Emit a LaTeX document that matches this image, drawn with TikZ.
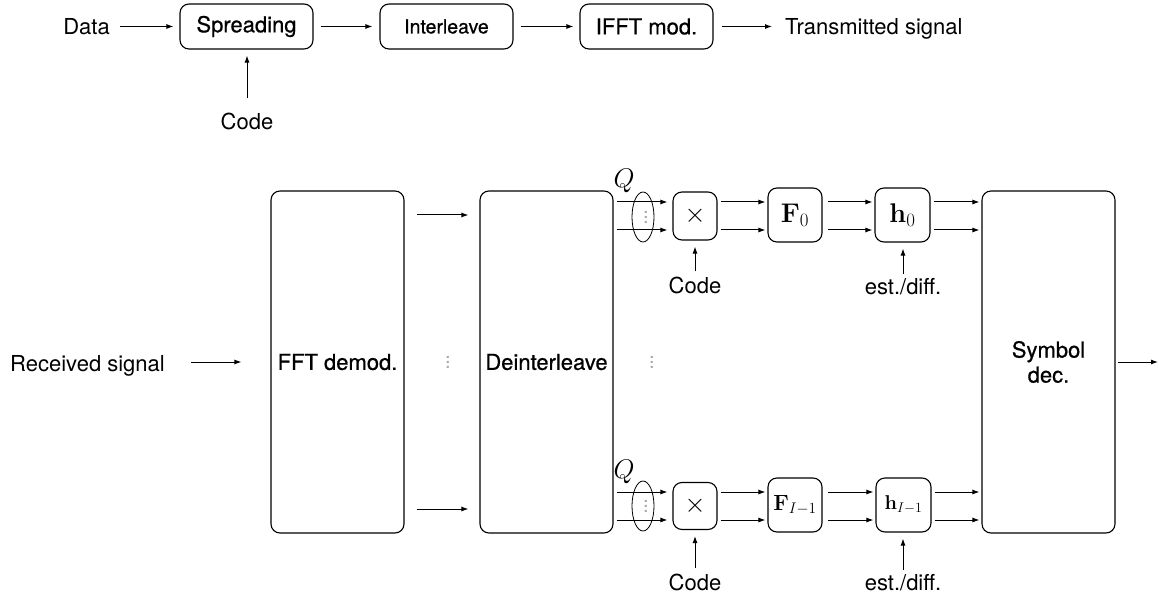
\RequirePackage{fix-cm}
\documentclass[tikz,border=0pt]{standalone}
\usepackage[no-math]{fontspec}
\setmainfont{TeX Gyre Heros}
\newfontfamily\blockfont[FakeBold=0.6]{TeX Gyre Heros}
\usetikzlibrary{arrows.meta,shapes.geometric,calc}
% three stacked dots, a little more open than \vdots
\newcommand\stackdots{\vbox{\baselineskip=5pt\lineskiplimit=0pt\hbox{.}\hbox{.}\hbox{.}}}

\begin{document}
\begin{tikzpicture}[x=1pt,y=-1pt,
  txt/.style={font=\fontsize{22}{25}\selectfont, inner sep=0pt},
  mth/.style={font=\fontsize{27}{30}\selectfont},
  blk/.style={draw, rounded corners=9pt, line width=1.1pt, inner sep=0pt,
              align=center, font=\fontsize{22}{25}\selectfont},
  namedblk/.style={blk, font=\blockfont\fontsize{22}{25}\selectfont},
  topblk/.style={namedblk, minimum width=133pt, minimum height=45pt},
  tallblk/.style={namedblk, minimum width=133pt, minimum height=342pt},
  arr/.style={-{Latex[length=7pt,width=5pt]}, line width=1pt},
  vdot/.style={text=gray!70, inner sep=0pt, font=\fontsize{20}{20}\selectfont},
  grp/.style={draw, ellipse, line width=0.8pt, inner sep=0pt,
              minimum width=22pt, minimum height=50pt},
]
\useasboundingbox (0,0) rectangle (1159,596);

% ---------------- transmitter chain ----------------
\node[txt, anchor=base east] (data) at (110,35) {Data};
\node[topblk] (spread) at (246.5,26.5) {Spreading};
\node[topblk, font=\blockfont\fontsize{19.5}{22}\selectfont] (inter) at (446.5,26.5) {Interleave};
\node[topblk] (ifft) at (646.5,26.5) {IFFT mod.};
\node[txt, anchor=base west] (tx) at (785,35) {Transmitted signal};
\node[txt, anchor=base] (code0) at (247,130) {Code};

\draw[arr, shorten <=10pt, shorten >=6pt] (data.east |- spread.west) -- (spread.west);
\draw[arr, shorten <=7pt, shorten >=7pt] (spread.east) -- (inter.west);
\draw[arr, shorten <=7pt, shorten >=6pt] (inter.east) -- (ifft.west);
\draw[arr, shorten <=8pt, shorten >=13pt] (ifft.east) -- (tx.west |- ifft.east);
\draw[arr, shorten <=15pt, shorten >=6pt] (code0.north) -- (code0.north |- spread.south);

% ---------------- receiver chain ----------------
\node[txt, anchor=base west] (recv) at (10,371) {Received signal};
\node[tallblk] (fft) at (337.5,362) {FFT demod.};
\node[tallblk] (deint) at (546.5,362) {Deinterleave};
\node[tallblk] (sym) at (1048.5,362) {Symbol\\dec.};
\node[vdot] (d1) at (448,362) {\stackdots};
\node[vdot] (d2) at (652,362) {\stackdots};
\coordinate (out) at (1159,362);

\draw[arr, shorten <=26pt, shorten >=29pt] (recv.east |- fft.west) -- (fft.west);
\coordinate (s1) at (0,215);
\coordinate (s2) at (0,509);
\foreach \r in {s1,s2}
  \draw[arr, shorten <=12pt, shorten >=11pt] (fft.east |- \r) -- (deint.west |- \r);
\draw[arr, shorten <=2pt, shorten >=1pt] (sym.east) -- (out);

% branch 0
\node[grp] (elA) at (643,217) {};
\node[vdot] (dA) at ([xshift=3pt]elA.center) {\stackdots};
\node[txt, mth, anchor=base] (QA) at (624,188) {$Q$};
\node[blk, mth, minimum width=44pt, minimum height=48pt] (mulA) at (695,216) {$\times$};
\node[blk, mth, minimum width=54pt, minimum height=54pt] (FA) at (795,215) {$\mathbf{F}_0$};
\node[blk, mth, minimum width=55pt, minimum height=54pt] (hA) at (902.5,215) {$\mathbf{h}_0$};
\node[txt, anchor=base] (codeA) at (695,293) {Code};
\node[txt, anchor=base] (estA) at (903,294) {est./diff.};

% branch I-1
\node[grp] (elB) at (643,506) {};
\node[vdot] (dB) at ([xshift=3pt]elB.center) {\stackdots};
\node[txt, mth, anchor=base] (QB) at (624,478) {$Q$};
\node[blk, mth, minimum width=44pt, minimum height=47pt] (mulB) at (695,506) {$\times$};
\node[blk, minimum width=54pt, minimum height=54pt, font=\fontsize{22}{24}\selectfont] (FB) at (795,505) {$\mathbf{F}_{I-1}$};
\node[blk, minimum width=55pt, minimum height=54pt, font=\fontsize{20}{22}\selectfont] (hB) at (903.5,505) {$\mathbf{h}_{I-1}$};
\node[txt, anchor=base] (codeB) at (695,590) {Code};
\node[txt, anchor=base] (estB) at (903,590) {est./diff.};

\coordinate (a1) at (0,202);
\coordinate (a2) at (0,230);
\coordinate (b1) at (0,492);
\coordinate (b2) at (0,520);

\foreach \r/\m/\f/\h in {a1/mulA/FA/hA, a2/mulA/FA/hA, b1/mulB/FB/hB, b2/mulB/FB/hB} {
  \draw[arr, shorten <=3pt, shorten >=5pt] (deint.east |- \r) -- (\m.west |- \r);
  \draw[arr, shorten <=3pt, shorten >=2pt] (\m.east |- \r) -- (\f.west |- \r);
  \draw[arr, shorten <=5pt, shorten >=2pt] (\f.east |- \r) -- (\h.west |- \r);
  \draw[arr, shorten <=3pt, shorten >=2pt] (\h.east |- \r) -- (sym.west |- \r);
}

\draw[arr, shorten <=5pt, shorten >=6pt] (codeA.north) -- (codeA.north |- mulA.south);
\draw[arr, shorten <=5pt, shorten >=6pt] (codeB.north) -- (codeB.north |- mulB.south);
\draw[arr, shorten <=4pt, shorten >=6pt] (estA.north) -- (estA.north |- hA.south);
\draw[arr, shorten <=4pt, shorten >=6pt] (estB.north) -- (estB.north |- hB.south);
\end{tikzpicture}
\end{document}
